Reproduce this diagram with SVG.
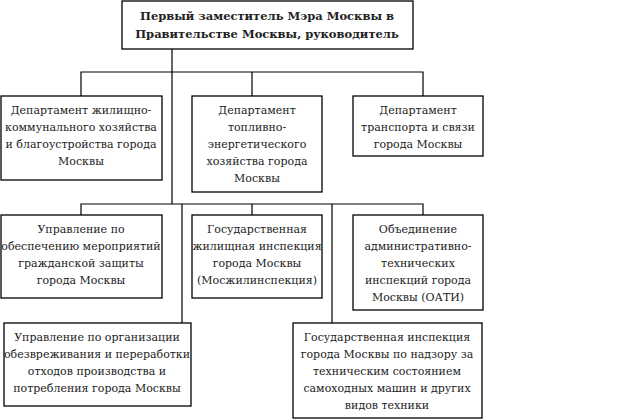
<svg xmlns="http://www.w3.org/2000/svg" width="623" height="420" viewBox="0 0 623 420">
<style>
rect{fill:#fff;stroke:#000;stroke-width:1.3}
text{font-family:'DejaVu Serif','Liberation Serif',serif;font-size:11px;text-anchor:middle;fill:#222}
.b{font-weight:bold;font-size:11.5px}
#c path{stroke:#000;stroke-width:1.2;fill:none}
</style>
<rect x="0" y="0" width="623" height="420" style="fill:#fff;stroke:none"/>
<g id="c">
<path d="M172 49V204M81 96V72H423V96M252 72V96M81 215V204H423V215M252 204V215M182 204V323M332 204V323"/>
</g>
<g id="top"><rect x="122" y="1" width="291" height="48"/>
<text class="b" x="267" y="20">Первый заместитель Мэра Москвы в</text>
<text class="b" x="267" y="38">Правительстве Москвы, руководитель</text></g>
<g id="a"><rect x="1" y="96" width="161" height="84"/>
<text x="81" y="114">Департамент  жилищно-</text><text x="81" y="131">коммунального хозяйства</text><text x="81" y="148">и благоустройства города</text><text x="81" y="165">Москвы</text></g>
<g id="b"><rect x="192" y="96" width="130" height="96"/>
<text x="257" y="114">Департамент</text><text x="257" y="131">топливно-</text><text x="257" y="148">энергетического</text><text x="257" y="165">хозяйства города</text><text x="257" y="182">Москвы</text></g>
<g id="cc"><rect x="353" y="96" width="130" height="60"/>
<text x="418" y="114">Департамент</text><text x="418" y="131">транспорта и связи</text><text x="418" y="148">города Москвы</text></g>
<g id="f"><rect x="1" y="215" width="161" height="83"/>
<text x="81" y="233">Управление по</text><text x="81" y="250">обеспечению мероприятий</text><text x="81" y="267">гражданской защиты</text><text x="81" y="284">города Москвы</text></g>
<g id="g"><rect x="192" y="215" width="130" height="83"/>
<text x="257" y="233">Государственная</text><text x="257" y="250">жилищная инспекция</text><text x="257" y="267">города Москвы</text><text x="257" y="284">(Мосжилинспекция)</text></g>
<g id="h"><rect x="353" y="215" width="130" height="95"/>
<text x="418" y="233">Объединение</text><text x="418" y="250">административно-</text><text x="418" y="267">технических</text><text x="418" y="284">инспекций города</text><text x="418" y="301">Москвы (ОАТИ)</text></g>
<g id="d"><rect x="4" y="323" width="187" height="83"/>
<text x="97" y="341">Управление по организации</text><text x="97" y="358">обезвреживания и переработки</text><text x="97" y="375">отходов производства и</text><text x="97" y="392">потребления города Москвы</text></g>
<g id="e"><rect x="293" y="323" width="189" height="95"/>
<text x="387" y="341">Государственная инспекция</text><text x="387" y="358">города Москвы по надзору за</text><text x="387" y="375">техническим состоянием</text><text x="387" y="392">самоходных машин и других</text><text x="387" y="409">видов техники</text></g>
</svg>
